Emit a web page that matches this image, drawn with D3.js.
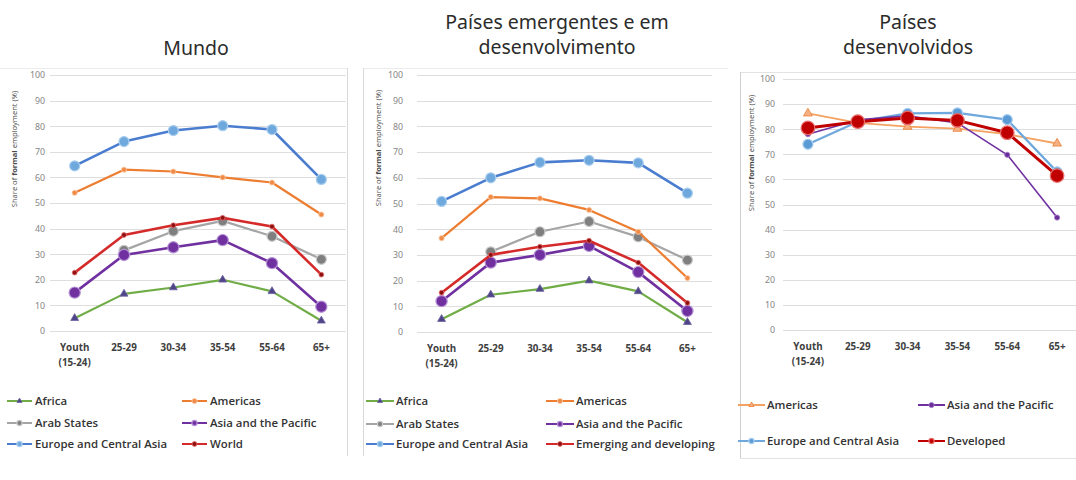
<!DOCTYPE html>
<html><head><meta charset="utf-8">
<script src="https://cdn.jsdelivr.net/npm/d3@7"></script>
<style>
html,body{margin:0;padding:0;background:#fff;}
svg{display:block;font-family:"Noto Sans","Open Sans",sans-serif;}
</style></head>
<body>
<svg id="c" width="1076" height="480"></svg>
<script>
// ---------------- DATA ----------------
const categories = ["Youth (15-24)", "25-29", "30-34", "35-54", "55-64", "65+"];
const yTicks = [0, 10, 20, 30, 40, 50, 60, 70, 80, 90, 100];

// Panel 1: Mundo
const mundoAfrica   = [5, 14.5, 17, 20, 15.5, 4];
const mundoAmericas = [54, 63, 62.3, 60, 58, 45.5];
const mundoArab     = [null, 31.5, 39, 43, 37, 28];
const mundoAsia     = [15, 29.7, 32.7, 35.5, 26.5, 9.5];
const mundoEurope   = [64.5, 74, 78.3, 80.2, 78.7, 59.2];
const mundoWorld    = [22.8, 37.5, 41.3, 44.2, 40.8, 22];

// Panel 2: Países emergentes e em desenvolvimento
const emAfrica   = [5, 14.5, 16.7, 20, 15.8, 3.8];
const emAmericas = [36.5, 52.5, 52, 47.5, 39, 21];
const emArab     = [null, 31.2, 39, 43, 37, 28];
const emAsia     = [12, 27, 30, 33.5, 23.3, 8.2];
const emEurope   = [50.8, 60, 66, 66.8, 65.8, 54];
const emEmerging = [15.3, 30, 33.2, 35.5, 27, 11.3];

// Panel 3: Países desenvolvidos
const devAmericas = [86.3, 82.5, 81, 80.2, 78, 74.3];
const devAsia     = [78, 83.7, 85.3, 82.5, 69.8, 44.8];
const devEurope   = [74, 83, 86.3, 86.5, 83.8, 63];
const devDeveloped= [80.5, 83, 84.5, 83.5, 78.6, 61.5];

const panelTitles = [["Mundo"], ["Países emergentes e em", "desenvolvimento"], ["Países", "desenvolvidos"]];
const yAxisTitle = ["Share of ", "formal", " employment (%)"];

// ---------------- STYLES ----------------
const S = {
  africa:   {line:"#70AD47", w:2.2, sym:"tri",    size:4, fill:"#4f4487", stroke:"#6b62a0"},
  americas: {line:"#ED7D31", w:2.2, sym:"dot",    size:2.6, fill:"#f08a45", stroke:"#fbd0b0"},
  arab:     {line:"#A5A5A5", w:2.2, sym:"circle", size:5, fill:"#7f7f7f", stroke:"#c9c9c9"},
  asia:     {line:"#7030A0", w:2.6, sym:"circle", size:5.6, fill:"#7030A0", stroke:"#b593d6"},
  europe:   {line:"#4A7DD0", w:2.6, sym:"circle", size:5, fill:"#6FA8DC", stroke:"#a8cdee"},
  world:    {line:"#D42A2A", w:2.6, sym:"dot",    size:2.4, fill:"#8e1010", stroke:"#e36a6a"},
  dAmericas:{line:"#F4A261", w:1.8, sym:"tri",    size:4.5, fill:"#F4B183", stroke:"#ED7D31"},
  dAsia:    {line:"#7030A0", w:1.6, sym:"dot",    size:2.6, fill:"#6a2e99", stroke:"#a57fcc"},
  dEurope:  {line:"#6FA8DC", w:2.2, sym:"circle", size:5, fill:"#5B9BD5", stroke:"#a8cdee"},
  dDev:     {line:"#C00000", w:3.0, sym:"circle", size:6.8, fill:"#C00000", stroke:"#e87070"}
};

const panels = [
  { title: panelTitles[0], titleX:196, titleY:[55],
    gx:[50,346], y100:75, y0:331, tickX:45, ytX:17, ytY:149,
    series:[
      {name:"Africa", v:mundoAfrica, s:S.africa},
      {name:"Americas", v:mundoAmericas, s:S.americas},
      {name:"Arab States", v:mundoArab, s:S.arab},
      {name:"Asia and the Pacific", v:mundoAsia, s:S.asia},
      {name:"Europe and Central Asia", v:mundoEurope, s:S.europe},
      {name:"World", v:mundoWorld, s:S.world}],
    drawOrder:[0,2,1,3,4,5],
    legend:{cols:[7,182], textDx:28, rows:[401,423,444], len:25}
  },
  { title: panelTitles[1], titleX:557, titleY:[29,54],
    gx:[417,712], y100:75, y0:332, tickX:403, ytX:381, ytY:148,
    series:[
      {name:"Africa", v:emAfrica, s:S.africa},
      {name:"Americas", v:emAmericas, s:S.americas},
      {name:"Arab States", v:emArab, s:S.arab},
      {name:"Asia and the Pacific", v:emAsia, s:S.asia},
      {name:"Europe and Central Asia", v:emEurope, s:S.europe},
      {name:"Emerging and developing", v:emEmerging, s:S.world}],
    drawOrder:[0,2,1,3,4,5],
    legend:{cols:[366,546], textDx:30, rows:[401,424,444], len:28}
  },
  { title: panelTitles[2], titleX:908, titleY:[29,54],
    gx:[783,1082], y100:79, y0:330, tickX:775, ytX:754, ytY:153,
    series:[
      {name:"Americas", v:devAmericas, s:S.dAmericas},
      {name:"Asia and the Pacific", v:devAsia, s:S.dAsia},
      {name:"Europe and Central Asia", v:devEurope, s:S.dEurope},
      {name:"Developed", v:devDeveloped, s:S.dDev}],
    drawOrder:[0,2,1,3],
    legend:{cols:[738,918], textDx:29, rows:[405,441], len:27}
  }
];

const svg = d3.select("#c");

// frames
const frame = svg.append("g").attr("stroke","#d9d9d9").attr("fill","none");
frame.append("line").attr("x1",0).attr("x2",347).attr("y1",68.5).attr("y2",68.5).attr("stroke","#ececec");
frame.append("line").attr("x1",347.5).attr("x2",347.5).attr("y1",68).attr("y2",456);
frame.append("line").attr("x1",363).attr("x2",728).attr("y1",68.5).attr("y2",68.5).attr("stroke","#ececec");
frame.append("line").attr("x1",363.5).attr("x2",363.5).attr("y1",68).attr("y2",456);
frame.append("line").attr("x1",740).attr("x2",1076).attr("y1",72.5).attr("y2",72.5).attr("stroke","#e3e3e3");
frame.append("line").attr("x1",740.5).attr("x2",740.5).attr("y1",72).attr("y2",458).attr("stroke","#cfcfcf");
frame.append("line").attr("x1",740).attr("x2",1076).attr("y1",458.5).attr("y2",458.5).attr("stroke","#e3e3e3");

function marker(g, s, x, y) {
  if (s.sym === "tri") {
    g.append("path").attr("d", d3.symbol(d3.symbolTriangle, s.size*s.size*1.7)())
      .attr("transform", `translate(${x},${y})`).attr("fill", s.fill).attr("stroke", s.stroke).attr("stroke-width", 0.8);
  } else {
    g.append("circle").attr("cx", x).attr("cy", y).attr("r", s.size)
      .attr("fill", s.fill).attr("stroke", s.stroke).attr("stroke-width", s.sym === "dot" ? 0.8 : 1.2);
  }
}

panels.forEach(p => {
  const g = svg.append("g");
  const band = d3.scaleBand().domain(categories).range(p.gx);
  const x = c => band(c) + band.bandwidth()/2;
  const y = d3.scaleLinear().domain([0,100]).range([p.y0, p.y100]);

  // title
  p.title.forEach((t,i) => g.append("text").attr("x", p.titleX).attr("y", p.titleY[i])
    .attr("text-anchor","middle").attr("font-size",19.5).attr("fill","#2b2b2b").text(t));

  // grid
  const gridG = g.append("g");
  gridG.selectAll("line").data(yTicks).join("line")
    .attr("x1", p.gx[0]).attr("x2", Math.min(p.gx[1],1076))
    .attr("y1", d => Math.round(y(d))+0.5).attr("y2", d => Math.round(y(d))+0.5)
    .attr("stroke", "#dedede").attr("stroke-width", 1);

  // y axis via d3.axisLeft (labels only)
  const ax = g.append("g").attr("transform", `translate(${p.tickX},0)`)
    .call(d3.axisLeft(y).tickValues(yTicks).tickSize(0).tickPadding(0));
  ax.select(".domain").remove();
  ax.selectAll("text").attr("font-family","'Noto Sans',sans-serif").attr("font-size",8.8).attr("fill","#858585");

  // x axis labels
  const xa = g.append("g").attr("transform", `translate(0,${p.y0})`)
    .call(d3.axisBottom(band).tickSize(0).tickPadding(0));
  xa.select(".domain").remove();
  xa.selectAll("text").each(function(d){
    const t = d3.select(this);
    t.text(null).attr("y", 0).attr("dy", null)
      .attr("font-family","'Open Sans',sans-serif").attr("font-weight",700).attr("font-size",9.8).attr("fill","#404040");
    const m = d.match(/^(\S+) (\(.*\))$/);
    const parts = m ? [m[1], m[2]] : [d];
    parts.forEach((pt,i) => t.append("tspan").attr("x",0).attr("y", 20 + i*15).text(pt));
  });

  // y axis title
  const yt = g.append("text").attr("transform", `translate(${p.ytX},${p.ytY}) rotate(-90)`)
    .attr("text-anchor","middle").attr("font-family","'Open Sans',sans-serif").attr("font-size",7.6).attr("fill","#4a4a4a");
  yAxisTitle.forEach((t,i) => yt.append("tspan").attr("font-weight", i===1 ? 700 : 400).text(t));

  // series
  const line = d3.line().defined(d => d.v != null).x(d => x(d.c)).y(d => y(d.v));
  p.drawOrder.forEach(k => {
    const se = p.series[k];
    const pts = categories.map((c,i) => ({c, v: se.v[i]}));
    g.append("path").datum(pts).attr("d", line).attr("fill","none")
      .attr("stroke", se.s.line).attr("stroke-width", se.s.w).attr("stroke-linejoin","round");
    pts.filter(d => d.v != null).forEach(d => marker(g, se.s, x(d.c), y(d.v)));
  });

  // legend
  const L = p.legend;
  p.series.forEach((se,i) => {
    const col = i % 2, row = Math.floor(i/2);
    const lx = L.cols[col], ly = L.rows[row];
    const lg = g.append("g");
    lg.append("line").attr("x1", lx).attr("x2", lx+L.len).attr("y1", ly).attr("y2", ly)
      .attr("stroke", se.s.line).attr("stroke-width", 2);
    const ms = Object.assign({}, se.s, {size: Math.min(se.s.size, se.s.sym==="tri"?2.6:2.6)});
    marker(lg, ms, lx+L.len/2, ly);
    lg.append("text").attr("x", lx+L.textDx).attr("y", ly+4)
      .attr("font-family","'Open Sans',sans-serif").attr("font-weight",600).attr("font-size",11.4).attr("fill","#333")
      .text(se.name);
  });
});
</script>
</body></html>
